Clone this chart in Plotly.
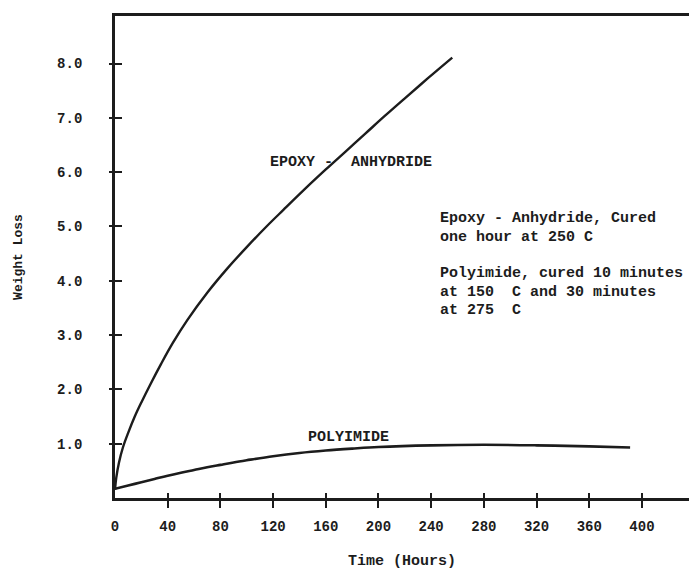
import plotly.graph_objects as go

# Weight loss versus ageing time for the two resin systems
epoxy_hours = [0, 1, 3, 6, 10, 15, 20, 27, 35, 44, 55, 70, 85, 100, 115, 128,
               145, 160, 175, 190, 205, 220, 238, 256]
epoxy_loss = [0.15, 0.38, 0.65, 0.93, 1.20, 1.50, 1.76, 2.10, 2.47, 2.86, 3.28, 3.78,
              4.22, 4.62, 5.00, 5.31, 5.71, 6.05, 6.38, 6.71, 7.04, 7.36, 7.74, 8.11]

polyimide_hours = [0, 10, 20, 30, 40, 50, 60, 70, 80, 90, 100, 120, 140, 160, 180,
                   200, 240, 280, 320, 360, 391]
polyimide_loss = [0.17, 0.23, 0.29, 0.35, 0.41, 0.465, 0.515, 0.565, 0.61, 0.655, 0.695,
                  0.77, 0.83, 0.875, 0.91, 0.94, 0.97, 0.98, 0.97, 0.95, 0.93]

x_ticks = [0, 40, 80, 120, 160, 200, 240, 280, 320, 360, 400]
y_ticks = [1, 2, 3, 4, 5, 6, 7, 8]
y_tick_text = ["1.0", "2.0", "3.0", "4.0", "5.0", "6.0", "7.0", "8.0"]

X_MAX = 435.7
Y_MAX = 8.876
FONT = "Liberation Mono, Courier New, monospace"
INK = "#1c1c1c"

fig = go.Figure()
fig.add_trace(go.Scatter(x=epoxy_hours, y=epoxy_loss, mode="lines",
                         line=dict(color=INK, width=2.4, shape="spline", smoothing=1.0),
                         showlegend=False, hoverinfo="skip"))
fig.add_trace(go.Scatter(x=polyimide_hours, y=polyimide_loss, mode="lines",
                         line=dict(color=INK, width=2.6, shape="spline", smoothing=1.0),
                         showlegend=False, hoverinfo="skip"))
# second axis pair, shifted slightly into the plot so its tick marks cross the frame
fig.add_trace(go.Scatter(x=[X_MAX / 2], y=[Y_MAX / 2], xaxis="x2", yaxis="y2", mode="markers",
                         marker=dict(size=1, color="rgba(255,255,255,0)"),
                         showlegend=False, hoverinfo="skip"))

axis_font = dict(family=FONT, size=14, color=INK, weight="bold")

fig.update_layout(
    width=689, height=570,
    margin=dict(l=115, r=0, t=16, b=72),
    paper_bgcolor="white", plot_bgcolor="white",
    font=dict(family=FONT, color=INK),
    xaxis=dict(range=[0, X_MAX], showgrid=False, zeroline=False,
               showline=True, linecolor=INK, linewidth=2.6, mirror=True,
               tickmode="array", tickvals=x_ticks, ticktext=[str(v) for v in x_ticks],
               ticks="", tickfont=axis_font, ticklabelstandoff=13,
               title=dict(text="Time (Hours)", font=dict(family=FONT, size=15, color=INK, weight="bold"),
                          standoff=26)),
    yaxis=dict(range=[0, Y_MAX], showgrid=False, zeroline=False,
               showline=True, linecolor=INK, linewidth=2.8,
               tickmode="array", tickvals=y_ticks, ticktext=y_tick_text,
               ticks="", tickfont=axis_font, ticklabelstandoff=27,
               title=dict(text="Weight Loss", font=dict(family=FONT, size=13, color=INK, weight="bold"),
                          standoff=32)),
    xaxis2=dict(overlaying="x", range=[0, X_MAX], anchor="free", position=0.0125, side="bottom",
                showgrid=False, zeroline=False, showline=False, showticklabels=False,
                tickmode="array", tickvals=x_ticks[1:], ticks="outside", ticklen=15,
                tickwidth=1.8, tickcolor=INK),
    yaxis2=dict(overlaying="y", range=[0, Y_MAX], anchor="free", position=0.0122, side="left",
                showgrid=False, zeroline=False, showline=False, showticklabels=False,
                tickmode="array", tickvals=y_ticks, ticks="outside", ticklen=13,
                tickwidth=1.8, tickcolor=INK),
)

label_font = dict(family=FONT, size=15, color=INK, weight="bold")
fig.add_annotation(x=(268 - 115) / 1.3175, y=6.18, text="EPOXY -  ANHYDRIDE", showarrow=False,
                   font=label_font, xanchor="left", yanchor="middle")
fig.add_annotation(x=177.0, y=1.115, text="POLYIMIDE", showarrow=False,
                   font=label_font, xanchor="center", yanchor="middle")

note_lines = [
    ("Epoxy - Anhydride, Cured", 218),
    ("one hour at 250 C", 237),
    ("Polyimide, cured 10 minutes", 273),
    ("at 150  C and 30 minutes", 292),
    ("at 275  C", 310),
]
for text, py in note_lines:
    fig.add_annotation(x=245.2, y=(497.5 - py) / 54.25, text=text, showarrow=False,
                       font=dict(family=FONT, size=15, color=INK, weight="bold"),
                       xanchor="left", yanchor="middle")

fig.write_html("out.html")
